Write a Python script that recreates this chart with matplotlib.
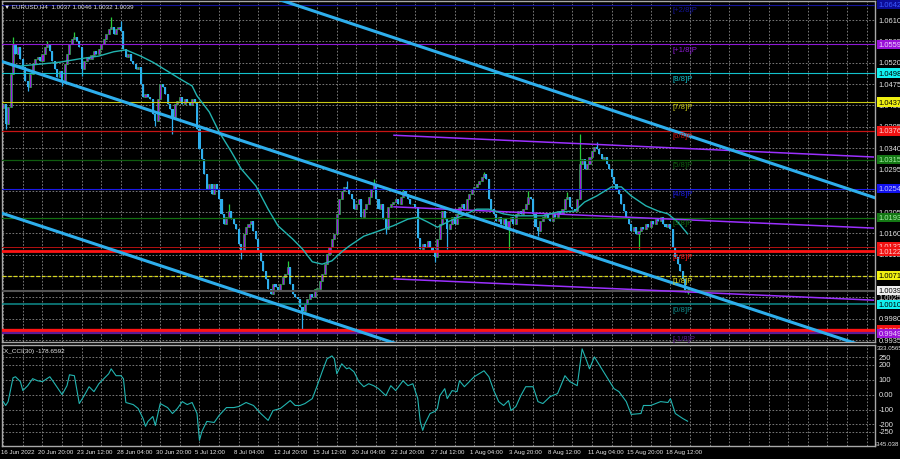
import numpy as np
import matplotlib
matplotlib.use("Agg")
from matplotlib import pyplot as plt
from matplotlib.transforms import blended_transform_factory

# EURUSD H4, 16 Jun - 19 Aug 2022
# prices kept in pips (10539 -> 1.0539), bar 2 is the first visible bar
first_bar = 2
first_open = 10425
closes = [
    10433, 10391, 10427, 10496, 10559, 10538, 10553, 10528, 10511, 10481,
    10469, 10496, 10517, 10528, 10532, 10524, 10538, 10553, 10559, 10545,
    10524, 10507, 10490, 10502, 10481, 10517, 10538, 10559, 10570, 10574,
    10566, 10553, 10507, 10524, 10532, 10528, 10536, 10545, 10538, 10549,
    10559, 10570, 10580, 10591, 10595, 10580, 10591, 10595, 10587, 10549,
    10532, 10538, 10524, 10517, 10507, 10511, 10475, 10448, 10454, 10448,
    10443, 10412, 10397, 10443, 10475, 10469, 10454, 10433, 10422, 10405,
    10433, 10439, 10448, 10433, 10443, 10437, 10431, 10443, 10435, 10380,
    10338, 10317, 10285, 10254, 10264, 10243, 10264, 10254, 10232, 10201,
    10180, 10194, 10207, 10190, 10180, 10169, 10138, 10123, 10159, 10173,
    10180, 10186, 10165, 10148, 10123, 10102, 10081, 10064, 10043, 10032,
    10053, 10047, 10038, 10053, 10068, 10074, 10089, 10053, 10032, 10026,
    10022, 10005, 9996, 10011, 10022, 10032, 10026, 10043, 10043, 10060,
    10074, 10095, 10117, 10131, 10148, 10159, 10201, 10232, 10249, 10258,
    10254, 10243, 10232, 10211, 10222, 10232, 10194, 10211, 10222, 10237,
    10254, 10264, 10232, 10211, 10222, 10190, 10169, 10216, 10222, 10226,
    10232, 10222, 10237, 10249, 10243, 10232, 10222, 10222, 10216, 10151,
    10127, 10138, 10131, 10144, 10131, 10123, 10110, 10148, 10180, 10207,
    10190, 10169, 10180, 10194, 10180, 10201, 10216, 10222, 10211, 10232,
    10243, 10254, 10258, 10264, 10270, 10279, 10285, 10275, 10232, 10211,
    10201, 10186, 10194, 10180, 10190, 10173, 10186, 10194, 10180, 10201,
    10207, 10201, 10211, 10222, 10237, 10232, 10201, 10173, 10165, 10186,
    10194, 10201, 10190, 10186, 10201, 10194, 10207, 10201, 10211, 10232,
    10237, 10216, 10211, 10207, 10232, 10306, 10317, 10296, 10306, 10321,
    10334, 10342, 10338, 10327, 10317, 10321, 10306, 10296, 10279, 10264,
    10254, 10243, 10222, 10207, 10194, 10180, 10165, 10173, 10159, 10165,
    10173, 10169, 10180, 10173, 10186, 10180, 10190, 10186, 10194, 10180,
    10173, 10180, 10169, 10131, 10110, 10095, 10081, 10064, 10037, 10039,
]
high_wicks = {6: 10574, 20: 10566, 31: 10585, 46: 10616, 50: 10608, 94: 10222,
              118: 10102, 142: 10270, 153: 10275, 165: 10254, 198: 10289,
              216: 10249, 232: 10247, 237: 10370, 244: 10353, 281: 10046}
low_wicks = {3: 10380, 12: 10460, 26: 10471, 34: 10492, 64: 10386, 71: 10370,
             99: 10106, 124: 9954, 158: 10159, 178: 10100, 183: 10127,
             208: 10127, 220: 10155, 261: 10127, 281: 10032}

# moving average (teal line)
ma_bars = [2, 9, 17, 25, 33, 41, 47, 52, 58, 63, 69, 74, 79, 81, 86, 90, 95, 99,
           105, 110, 114, 120, 124, 128, 132, 136, 140, 143, 149, 154, 161, 167,
           171, 175, 179, 184, 189, 195, 200, 206, 211, 222, 228, 235, 239, 244,
           250, 254, 258, 264, 269, 273, 277, 281]
ma_vals = [10521, 10513, 10517, 10521, 10528, 10534, 10543, 10547, 10534, 10521,
           10502, 10486, 10471, 10450, 10416, 10374, 10332, 10296, 10260, 10211,
           10176, 10148, 10127, 10100, 10095, 10102, 10121, 10133, 10154, 10163,
           10176, 10190, 10194, 10184, 10173, 10186, 10197, 10211, 10211, 10201,
           10197, 10197, 10205, 10207, 10226, 10239, 10258, 10258, 10239, 10218,
           10207, 10201, 10184, 10159]

# X_CCI(30) sub window
cci_bars = [2, 3, 4, 6, 7, 9, 10, 12, 14, 16,
            18, 21, 23, 26, 28, 29, 31, 33, 35, 37,
            39, 41, 43, 45, 46, 48, 50, 51, 52, 55,
            57, 59, 60, 61, 63, 64, 66, 69, 71, 73,
            75, 77, 79, 81, 82, 83, 85, 88, 90, 93,
            96, 98, 101, 104, 107, 110, 112, 115, 117, 119,
            121, 123, 125, 128, 130, 132, 134, 136, 137, 138,
            140, 142, 143, 145, 147, 149, 151, 153, 155, 158,
            160, 162, 165, 167, 169, 171, 172, 173, 174, 176,
            178, 179, 180, 182, 183, 185, 187, 188, 190, 192,
            194, 196, 198, 200, 202, 204, 206, 208, 209, 211,
            213, 215, 218, 220, 222, 225, 228, 231, 233, 236,
            238, 240, 241, 243, 246, 249, 251, 253, 256, 258,
            262, 263, 266, 270, 273, 274, 276, 279, 281]
cci_vals = [-47, -73, -47, 113, 120, 87, 27, 60, 107, 93,
            87, 120, 73, 0, 60, 133, 127, -60, -7, 53,
            20, 73, 107, 140, 173, 127, 127, 107, -53, -67,
            -93, -160, -213, -180, -147, -207, -60, -87, -127, -93,
            -47, -67, -53, -127, -307, -247, -180, -187, -140, -87,
            -87, -80, -53, -73, -127, -173, -107, -93, -67, -40,
            -73, -73, -60, -27, 60, 153, 240, 260, 240, 140,
            207, 173, 180, 153, 87, 53, 73, 60, 40, -7,
            60, 27, 93, 60, 73, -27, -180, -240, -193, -127,
            -113, -93, -7, 40, -27, 27, 20, 93, 53, 87,
            120, 140, 160, 120, 27, -47, -73, -40, -107, -80,
            -7, 53, 53, -47, -60, -13, 7, 127, 87, 60,
            307, 220, 173, 253, 173, 93, 40, 20, -47, -133,
            -127, -73, -73, -47, -53, -27, -127, -160, -178.66]
cci_last = -178.6592
cci_top, cci_bottom = 333.0565, -345.038
cci_ticks = [250, 200, 100, 0, -100, -200, -250]

# Murray math levels and their right-hand price boxes
levels = [1.0642, 1.0559, 1.0498, 1.0437, 1.0376, 1.0315, 1.0254, 1.0193,
          1.0132, 1.0122, 1.0071, 1.0039, 1.0010, 0.9956, 0.9949]
level_names = ["[+2/8]P", "[+1/8]P", "[8/8]P", "[7/8]P", "[6/8]P", "[5/8]P",
               "[4/8]P", "[3/8]P", "", "[2/8]P", "[1/8]P", "", "[0/8]P", "", "[-1/8]P"]
level_colors = ['#14149a', '#8e1ad6', '#12c2cc', '#c8c814', '#c81414', '#0f5c0f',
                '#1a1ae6', '#126e12', '#b41010', '#ff1414', '#d8d81e', '#555555',
                '#0f8c8c', '#ff1414', '#5e1a96']
level_widths = [0.8, 0.8, 0.8, 0.8, 0.9, 0.9, 0.8, 0.9, 0.7, 2.0, 0.9, 1.5, 1.1, 2.4, 1.6]
box_bg = ['#0c0c96', '#9a12d8', '#12f0f0', '#f0f012', '#f01212', '#147814', '#1212f0',
          '#147814', '#f01212', '#f01212', '#f0f012', '#f0f0f0', '#12f0f0', '#f01212', '#9a12d8']
box_fg = ['#3c5aff', '#f0d2ff', 'black', 'black', '#ffd2d2', '#a8f0a8', '#c8c8ff',
          '#a8f0a8', '#ffd2d2', '#ffd2d2', 'black', 'black', 'black', '#ffd2d2', '#f0d2ff']

# trend channel and regression channel anchors (bar, price)
channels = [((114, 1.0654), (358, 1.0234)),
            ((0, 1.0525), (360, 0.9910)),
            ((0, 1.0205), (170, 0.9914))]
regression = [((161, 1.0367), (357, 1.0321)),
              ((161, 1.0216), (357, 1.0171)),
              ((161, 1.0064), (357, 1.0019))]

price_ticks = [1.0610, 1.0565, 1.0520, 1.0475, 1.0430, 1.0385, 1.0340, 1.0295,
               1.0250, 1.0205, 1.0160, 1.0115, 1.0070, 1.0025, 0.9980, 0.9935]
date_bars = [2, 17, 33, 49, 65, 81, 97, 113, 129, 145, 161, 177, 193, 209, 225, 241, 257, 273]
date_labels = ["16 Jun 2022", "20 Jun 20:00", "23 Jun 12:00", "28 Jun 04:00",
               "30 Jun 20:00", "5 Jul 12:00", "8 Jul 04:00", "12 Jul 20:00",
               "15 Jul 12:00", "20 Jul 04:00", "22 Jul 20:00", "27 Jul 12:00",
               "1 Aug 04:00", "3 Aug 20:00", "8 Aug 12:00", "11 Aug 04:00",
               "15 Aug 20:00", "18 Aug 12:00"]

plt.rcParams['font.family'] = ['Liberation Sans Narrow', 'Liberation Sans', 'DejaVu Sans']

BLUE = '#2eaeec'
PURPLE = '#9a18e6'
GREEN = '#28cc3c'
TEAL = '#22b4b0'
GRID = '#8a8a8a'
FRAME = '#a8a8a8'
TXT = '#e6e6e6'
FS_AX = 5.4   # right scale labels
FS_DATE = 4.4

fig = plt.figure(figsize=(9, 4.6), dpi=100, facecolor='black')
ax = fig.add_axes([2 / 900, 1 - 343 / 460, 873 / 900, 341 / 460], facecolor='black')
ax2 = fig.add_axes([2 / 900, 1 - 447 / 460, 873 / 900, 101 / 460], facecolor='black')

xlim = (1.5, 357.4)
for a in (ax, ax2):
    a.set_xlim(*xlim)
    a.set_xticks([])
    a.set_yticks([])
    for s in a.spines.values():
        s.set_color(FRAME)
        s.set_linewidth(1)
    for gb in range(2, 358, 8):
        a.axvline(gb, color=GRID, lw=0.6, ls=(0, (2, 2)), zorder=0.5)
ax.set_ylim(0.99308, 1.06501)
ax2.set_ylim(cci_bottom, cci_top)

for p in price_ticks:
    ax.axhline(p, color=GRID, lw=0.6, ls=(0, (2, 2)), zorder=0.5)
for v in cci_ticks:
    ax2.axhline(v, color=GRID, lw=0.6, ls=(0, (2, 2)), zorder=0.5)

# candles
bars = np.arange(first_bar, first_bar + len(closes))
c = np.array(closes) / 1e4
o = np.array([first_open] + closes[:-1]) / 1e4
hi = np.maximum(o, c)
lo = np.minimum(o, c)
for b, v in high_wicks.items():
    hi[b - first_bar] = v / 1e4
for b, v in low_wicks.items():
    lo[b - first_bar] = v / 1e4
up = c >= o
ax.vlines(bars[up], lo[up], hi[up], color=GREEN, lw=0.9, zorder=2)
ax.vlines(bars[~up], lo[~up], hi[~up], color=BLUE, lw=0.9, zorder=2)
ax.bar(bars[up], np.maximum((c - o)[up], 0.00008), bottom=o[up], width=0.85,
       color=PURPLE, edgecolor=GREEN, lw=0.4, zorder=2.5)
ax.bar(bars[~up], np.maximum((o - c)[~up], 0.00008), bottom=c[~up], width=0.85,
       color=BLUE, lw=0, zorder=2.5)

# Murray levels
for p, col, w in zip(levels, level_colors, level_widths):
    ls = (0, (3, 1.5)) if p == 1.0071 else '-'
    ax.axhline(p, color=col, lw=w, ls=ls, zorder=3)
for p, name, col in zip(levels, level_names, level_colors):
    if name:
        ax.text(275, p - 0.0003, name, color=col, fontsize=5.6, va='top',
                ha='left', zorder=6)

# regression channel and trend channel
for (b0, p0), (b1, p1) in regression:
    ax.plot([b0, b1], [p0, p1], color='#9b30ff', lw=1.1, zorder=4, solid_capstyle='butt')
ax.plot(ma_bars, np.array(ma_vals) / 1e4, color=TEAL, lw=1.0, zorder=4.5)
for (b0, p0), (b1, p1) in channels:
    ax.plot([b0, b1], [p0, p1], color=BLUE, lw=2.2, zorder=5)

# right price scale
tr = blended_transform_factory(ax.transAxes, ax.transData)
for p in price_ticks:
    ax.text(1.004, p, f"{p:.4f}", transform=tr, color=TXT, fontsize=FS_AX,
            va='center', ha='left', clip_on=False, zorder=7)
for p, bg, fg in zip(levels, box_bg, box_fg):
    ax.text(1.004, p, f"{p:.4f}", transform=tr, color=fg, fontsize=FS_AX,
            va='center', ha='left', clip_on=False, zorder=8,
            bbox=dict(boxstyle='square,pad=0.15', fc=bg, ec=bg, lw=0))

# CCI window
ax2.plot(cci_bars, cci_vals, color=TEAL, lw=0.8, zorder=3)
tr2 = blended_transform_factory(ax2.transAxes, ax2.transData)
for v in cci_ticks:
    lab = "0.00" if v == 0 else f"{v}"
    ax2.text(1.004, v, lab, transform=tr2, color=TXT, fontsize=FS_AX, va='center',
             ha='left', clip_on=False)
ax2.text(1.002, cci_top, f"{cci_top}", transform=tr2, color=TXT, fontsize=4.4,
         va='top', ha='left', clip_on=False)
ax2.text(1.0, cci_bottom, f"{cci_bottom}", transform=tr2, color=TXT, fontsize=4.4,
         va='bottom', ha='left', clip_on=False)

# titles
fig.text(4 / 900, 1 - 7 / 460, "\u25bc EURUSD,H4  1.0037 1.0046 1.0032 1.0039",
         color=TXT, fontsize=4.5, va='center', ha='left')
fig.text(4 / 900, 1 - 351 / 460, f"X_CCI(30) {cci_last}", color=TXT, fontsize=4.6,
         va='center', ha='left')

# time axis
trd = blended_transform_factory(ax2.transData, fig.transFigure)
for b, lab in zip(date_bars, date_labels):
    ax2.text(b - 0.8, 1 - 453 / 460, lab, transform=trd, color=TXT, fontsize=FS_DATE,
             va='center', ha='left', clip_on=False)

fig.savefig("out.png", dpi=100, facecolor='black')
